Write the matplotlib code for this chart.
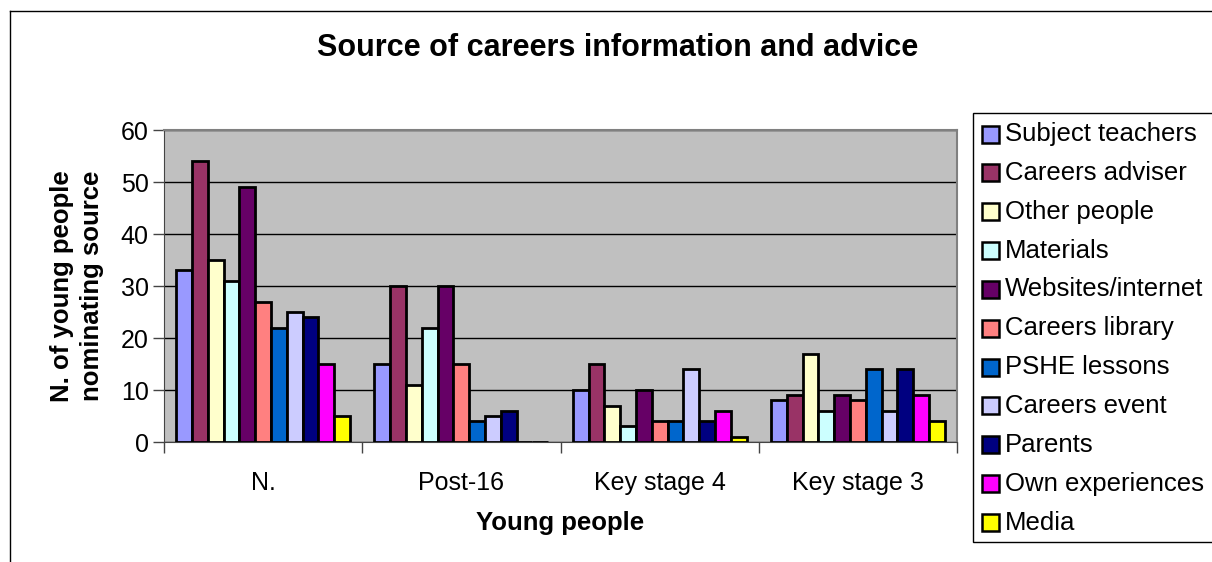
import matplotlib
matplotlib.use("Agg")
import matplotlib.pyplot as plt
import numpy as np
from matplotlib.lines import Line2D
from matplotlib.patches import Rectangle

plt.rcParams['font.family'] = ['Liberation Sans', 'DejaVu Sans']

categories = ["N.", "Post-16", "Key stage 4", "Key stage 3"]
series_names = ["Subject teachers", "Careers adviser", "Other people", "Materials",
                "Websites/internet", "Careers library", "PSHE lessons", "Careers event",
                "Parents", "Own experiences", "Media"]
subject_teachers = [33, 15, 10, 8]
careers_adviser = [54, 30, 15, 9]
other_people = [35, 11, 7, 17]
materials = [31, 22, 3, 6]
websites_internet = [49, 30, 10, 9]
careers_library = [27, 15, 4, 8]
pshe_lessons = [22, 4, 4, 14]
careers_event = [25, 5, 14, 6]
parents = [24, 6, 4, 14]
own_experiences = [15, 0, 6, 9]
media = [5, 0, 1, 4]
values = [subject_teachers, careers_adviser, other_people, materials, websites_internet,
          careers_library, pshe_lessons, careers_event, parents, own_experiences, media]
colors = ["#9999FF", "#993366", "#FFFFCC", "#CCFFFF", "#660066", "#FF8080",
          "#0066CC", "#CCCCFF", "#000080", "#FF00FF", "#FFFF00"]

W, H = 1212, 562
def fx(p):
    return p / W
def fy(p):
    return 1 - p / H

fig = plt.figure(figsize=(W/100, H/100), dpi=100)
fig.patch.set_facecolor("white")
L, R, T, B = 164, 957, 130, 442
ax = fig.add_axes([fx(L), fy(B), (R-L)/W, (B-T)/H])
ax.set_facecolor("#C0C0C0")

n = len(series_names)
bw = 0.0797
x = np.arange(len(categories))
for i, (name, vals, c) in enumerate(zip(series_names, values, colors)):
    offs = (i - (n-1)/2) * bw
    ax.bar(x + offs, vals, width=bw, color=c, edgecolor="black", linewidth=2, label=name, zorder=3)

ax.set_xlim(-0.5, len(categories)-0.5)
ax.set_ylim(0, 60)
ax.set_yticks(range(0, 61, 10))
ax.yaxis.grid(True, color="black", linewidth=1)
ax.set_axisbelow(True)
ax.set_xticks(x)
ax.set_xticklabels(categories, fontsize=18)
ax.set_xticks(np.arange(-0.5, len(categories), 1.0), minor=True)
ax.tick_params(axis='x', which='major', length=0, pad=21)
ax.tick_params(axis='x', which='minor', length=8, width=1, color="#444444")
ax.tick_params(axis='y', labelsize=18, length=8, width=1, color="#444444", pad=3)
for s in ["top", "right"]:
    ax.spines[s].set_color("#808080")
    ax.spines[s].set_linewidth(1.5)
ax.spines["left"].set_color("#444444")
ax.spines["bottom"].set_color("#444444")

ax.set_xlabel("Young people", fontsize=18.5, fontweight="bold")
ax.xaxis.set_label_coords(0.5, -(511 - B) / (B - T))
ax.set_ylabel("N. of young people\nnominating source", fontsize=18.5, fontweight="bold",
              linespacing=1.3)
ax.yaxis.set_label_coords(-(L - 104) / (R - L), 0.5)
fig.text(fx(618), fy(48), "Source of careers information and advice", fontsize=22,
         fontweight="bold", ha="center", va="center")

# legend box (drawn at pixel positions of the reference)
leg_top, leg_bot, leg_left = 113, 542, 973
fig.add_artist(Rectangle((fx(leg_left), fy(leg_bot)), fx(W + 20 - leg_left), (leg_bot - leg_top)/H,
                         transform=fig.transFigure, facecolor="white", edgecolor="black",
                         linewidth=1, zorder=5))
row0, pitch, sq = 134, 38.85, 17
for i, (name, c) in enumerate(zip(series_names, colors)):
    yc = row0 + i * pitch
    fig.add_artist(Rectangle((fx(982), fy(yc + sq/2)), sq/W, sq/H, transform=fig.transFigure,
                             facecolor=c, edgecolor="black", linewidth=1.8, zorder=6))
    fig.text(fx(1005), fy(yc), name, fontsize=18.5, ha="left", va="center", zorder=7)

fig.add_artist(Line2D([fx(10), 1], [fy(11), fy(11)], color="black", linewidth=1, transform=fig.transFigure))
fig.add_artist(Line2D([fx(10), fx(10)], [0, fy(11)], color="black", linewidth=1, transform=fig.transFigure))

fig.savefig("out.png", dpi=100)
